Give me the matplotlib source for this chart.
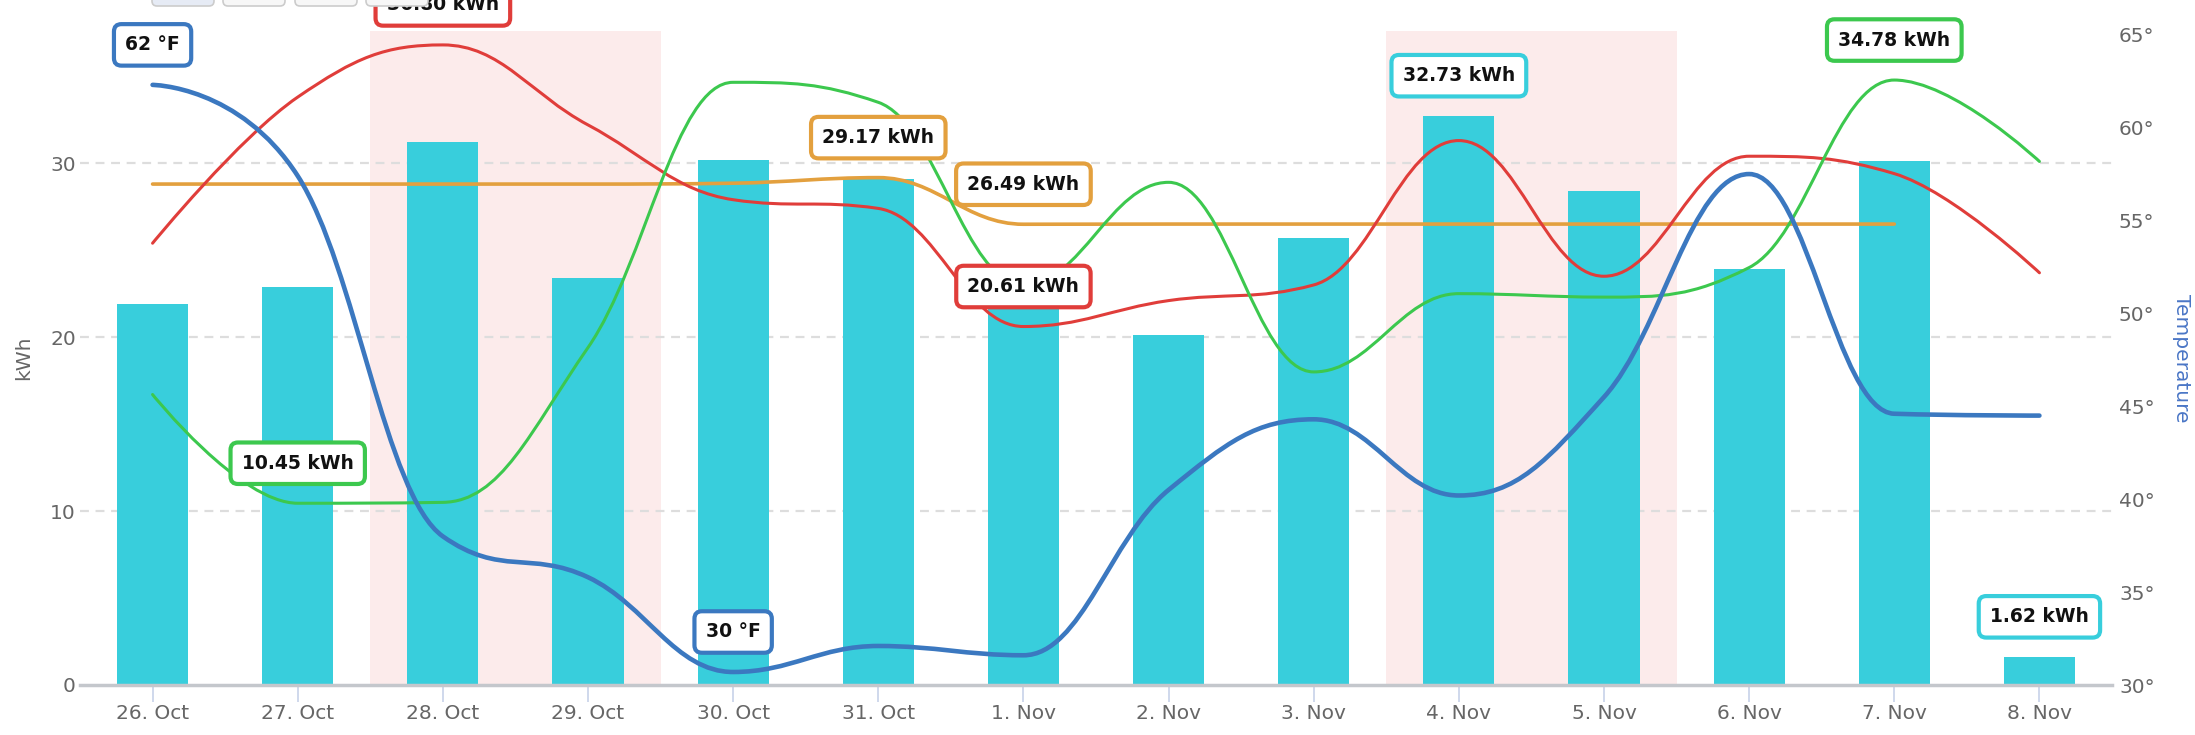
from matplotlib import pyplot as plt
from matplotlib.path import Path
from matplotlib.patches import PathPatch, FancyBboxPatch
import numpy as np

# categories (days)
DAYS = ['26. Oct', '27. Oct', '28. Oct', '29. Oct', '30. Oct', '31. Oct', '1. Nov',
        '2. Nov', '3. Nov', '4. Nov', '5. Nov', '6. Nov', '7. Nov', '8. Nov']

# daily usage bars (kWh)
usage = [21.9, 22.9, 31.2, 23.4, 30.2, 29.1, 21.8, 20.1, 25.7, 32.73, 28.4, 23.9, 30.1, 1.62]
# spline series on the kWh axis
red_kwh = [25.4, 33.8, 36.80, 32.2, 27.9, 27.4, 20.61, 22.1, 23.0, 31.3, 23.5, 30.4, 29.4, 23.7]
green_kwh = [16.7, 10.45, 10.5, 19.4, 34.65, 33.5, 23.0, 28.9, 18.0, 22.5, 22.3, 24.0, 34.78, 30.1]
avg_kwh = [28.8, 28.8, 28.8, 28.8, 28.85, 29.17, 26.49, 26.5, 26.5, 26.5, 26.5, 26.5, 26.5]
# temperature (right axis, F)
temp_f = [62.3, 57.4, 38.0, 35.8, 30.7, 32.1, 31.6, 40.5, 44.3, 40.2, 45.5, 57.5, 44.6, 44.5]

# weekend bands (index ranges)
weekends = [(2, 3), (9, 10)]

CYAN = '#38cedc'
RED = '#e03d3a'
GREEN = '#3cc84e'
ORANGE = '#e3a03e'
BLUE = '#3b78c0'
BAND = '#fcebeb'
GRAY = '#666666'

W, H = 2195, 735


def hc_spline(xs, ys, smoothing=1.5):
    # same control point logic as a highcharts "spline" series
    n = len(xs)
    left = [None] * n
    right = [None] * n
    d = smoothing + 1
    for i in range(1, n - 1):
        px, py = xs[i], ys[i]
        lx, ly = xs[i - 1], ys[i - 1]
        nx, ny = xs[i + 1], ys[i + 1]
        lcx = (smoothing * px + lx) / d
        lcy = (smoothing * py + ly) / d
        rcx = (smoothing * px + nx) / d
        rcy = (smoothing * py + ny) / d
        if rcx != lcx:
            corr = ((rcy - lcy) * (rcx - px)) / (rcx - lcx) + py - rcy
            lcy += corr
            rcy += corr
        if lcy > ly and lcy > py:
            lcy = max(ly, py)
            rcy = 2 * py - lcy
        elif lcy < ly and lcy < py:
            lcy = min(ly, py)
            rcy = 2 * py - lcy
        if rcy > ny and rcy > py:
            rcy = max(ny, py)
            lcy = 2 * py - rcy
        elif rcy < ny and rcy < py:
            rcy = min(ny, py)
            lcy = 2 * py - rcy
        left[i] = (lcx, lcy)
        right[i] = (rcx, rcy)
    verts = [(xs[0], ys[0])]
    codes = [Path.MOVETO]
    for i in range(1, n):
        c1 = right[i - 1] or (xs[i - 1], ys[i - 1])
        c2 = left[i] or (xs[i], ys[i])
        verts += [c1, c2, (xs[i], ys[i])]
        codes += [Path.CURVE4] * 3
    return Path(verts, codes)


def add_spline(ax, values, color, lw, z):
    xs = np.arange(len(values), dtype=float)
    patch = PathPatch(hc_spline(xs, np.array(values, dtype=float)), fill=False,
                      edgecolor=color, lw=lw, zorder=z, capstyle='round', joinstyle='round')
    ax.add_patch(patch)


def add_label(ax2, trans, x, y, text, color):
    ax2.annotate(text, xy=(x, y), xycoords=trans, xytext=(0, 40), textcoords='offset pixels',
                 ha='center', va='center', fontsize=13.5, fontweight='bold', color='#111111',
                 zorder=20, annotation_clip=False,
                 bbox=dict(boxstyle='round,pad=0.6,rounding_size=0.4', fc='white', ec=color, lw=3))


def main():
    fig = plt.figure(figsize=(W / 100, H / 100), dpi=100)
    ax = fig.add_axes([80 / W, 50 / H, 2032 / W, 654 / H])
    ax2 = ax.twinx()

    x = np.arange(len(DAYS))
    ax.set_xlim(-0.5, len(DAYS) - 0.5)
    ax.set_ylim(0, 37.6)
    ax2.set_ylim(30, 65.2)

    for a, b in weekends:
        ax.axvspan(a - 0.5, b + 0.5, color=BAND, lw=0, zorder=0)

    ax.set_yticks([0, 10, 20, 30])
    for v in [10, 20, 30]:
        ax.axhline(v, color='#dddddd', lw=1.6, ls=(0, (4, 3)), zorder=0.5)

    ax.bar(x, usage, width=0.49, color=CYAN, zorder=2)

    add_spline(ax, avg_kwh, ORANGE, 2.6, 3)
    add_spline(ax, red_kwh, RED, 2.2, 3)
    add_spline(ax, green_kwh, GREEN, 2.2, 3)
    add_spline(ax2, temp_f, BLUE, 3.3, 4)

    # min / max labels
    for vals, col in [(red_kwh, RED), (green_kwh, GREEN), (avg_kwh, ORANGE), (usage, CYAN)]:
        for idx in (int(np.argmax(vals)), int(np.argmin(vals))):
            add_label(ax2, ax.transData, idx, vals[idx], f'{vals[idx]:.2f} kWh', col)
    for idx in (int(np.argmax(temp_f)), int(np.argmin(temp_f))):
        add_label(ax2, ax2.transData, idx, temp_f[idx], f'{int(temp_f[idx])} °F', BLUE)

    ax.set_xticks(x)
    ax.set_xticklabels(DAYS)
    ax.tick_params(axis='x', length=12, width=1.3, color='#ccd6eb', pad=2,
                   labelsize=14.5, labelcolor=GRAY)
    ax.tick_params(axis='y', length=0, pad=3, labelsize=14.5, labelcolor=GRAY)

    ax2.set_yticks(np.arange(30, 66, 5))
    ax2.set_yticklabels([f'{t}°' for t in range(30, 66, 5)])
    ax2.tick_params(axis='y', length=0, pad=5, labelsize=14.5, labelcolor=GRAY)

    for a in (ax, ax2):
        for s in ['top', 'left', 'right', 'bottom']:
            a.spines[s].set_visible(False)
    ax.axhline(0, color='#c4c7cc', lw=2.5, zorder=5, clip_on=False)

    ax.set_ylabel('kWh', fontsize=14.5, color=GRAY)
    ax.yaxis.set_label_coords(-0.023, 0.5)
    ax2.set_ylabel('Temperature', fontsize=14.5, color='#4a76c6', rotation=270, va='center')
    ax2.yaxis.set_label_coords(1.0344, 0.5)

    # range selector buttons, cut off at the top edge
    for i, bx in enumerate([152, 223, 295, 366]):
        fc = '#e6ebf5' if i == 0 else '#f7f7f7'
        fig.patches.append(FancyBboxPatch((bx / 100, (H - 6) / 100), 0.62, 0.3,
                                          boxstyle='round,pad=0,rounding_size=0.05',
                                          fc=fc, ec='#cccccc', lw=1.2,
                                          transform=fig.dpi_scale_trans, zorder=1))

    fig.savefig('out.png', dpi=100)


if __name__ == "__main__":
    main()
